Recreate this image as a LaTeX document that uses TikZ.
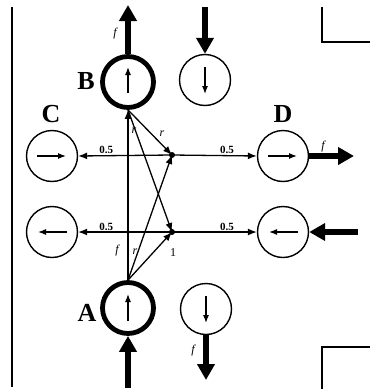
\documentclass[tikz,border=0pt]{standalone}
\usepackage{fontspec}
\setmainfont{Liberation Serif}
\usetikzlibrary{arrows.meta}
\begin{document}
\begin{tikzpicture}[x=1pt,y=-1pt,
  thincirc/.style={circle,draw,line width=1.4pt,minimum size=51pt,inner sep=0pt},
  thickcirc/.style={circle,draw,line width=4.8pt,minimum size=51pt,inner sep=0pt},
  flow/.style={line width=1.3pt,-{Latex[length=9pt,width=7pt]}},
  big/.style={line width=5.5pt,-{Triangle[length=16pt,width=17pt]}},
  inarr/.style={line width=1.2pt,-{Latex[length=8pt,width=6pt]}},
  lab/.style={font=\bfseries\fontsize{26}{26}\selectfont,inner sep=0pt},
  num/.style={font=\bfseries\fontsize{11}{11}\selectfont,inner sep=1pt},
  fl/.style={font=\itshape\fontsize{12}{12}\selectfont,inner sep=0pt},
  frame/.style={line width=1.5pt}]
\useasboundingbox (0,0) rectangle (370,389);
% frame
\coordinate (L1) at (12,7);  \coordinate (L2) at (12,387);
\draw[frame] (L1) -- (L2);
\coordinate (T1) at (322,7); \coordinate (T2) at (322,42); \coordinate (T3) at (370,42);
\draw[frame] (T1) -- (T2) -- (T3);
\coordinate (U1) at (322,389); \coordinate (U2) at (322,347); \coordinate (U3) at (370,347);
\draw[frame] (U1) -- (U2) -- (U3);
% circles
\node[thickcirc] (B) at (128,82) {};
\node[thincirc] (T) at (205,80) {};
\node[thincirc] (C) at (52,156) {};
\node[thincirc] (D) at (283,156) {};
\node[thincirc] (E) at (52,232) {};
\node[thincirc] (F) at (283,232) {};
\node[thickcirc] (A) at (128,308) {};
\node[thincirc] (S) at (206,309) {};
% inner arrows (yshift is measured upwards)
\draw[inarr] ([yshift=-11pt]B.center) -- ([yshift=15pt]B.center);
\draw[inarr] ([yshift=13pt]T.center) -- ([yshift=-14pt]T.center);
\draw[inarr] ([xshift=-15pt]C.center) -- ([xshift=14pt]C.center);
\draw[inarr] ([xshift=-15pt]D.center) -- ([xshift=14pt]D.center);
\draw[inarr] ([xshift=15pt]E.center) -- ([xshift=-14pt]E.center);
\draw[inarr] ([xshift=15pt]F.center) -- ([xshift=-14pt]F.center);
\draw[inarr] ([yshift=-13pt]A.center) -- ([yshift=14pt]A.center);
\draw[inarr] ([yshift=13pt]S.center) -- ([yshift=-14pt]S.center);
% labels
\node[lab] (lB) at (86,81) {B};
\node[lab] (lA) at (87,313) {A};
\node[lab] (lC) at (51,114) {C};
\node[lab] (lD) at (283,114) {D};
% junctions
\coordinate (P) at (172,155);
\coordinate (Q) at (172,232);
% horizontal flows
\draw[flow] (P) -- node[num,pos=0.7,above] {0.5} (C.east);
\draw[flow] (P) -- node[num,pos=0.65,above] {0.5} (D.west);
\draw[flow] (Q) -- node[num,pos=0.7,above] {0.5} (E.east);
\draw[flow] (Q) -- node[num,pos=0.65,above] {0.5} (F.west);
% vertical and diagonal flows
\draw[flow] (A.north) -- (B.south);
\draw[flow] (B.south) -- (P);
\draw[flow] (B.south) -- (Q);
\draw[flow] (A.north) -- (P);
\draw[flow] (A.north) -- (Q);
\fill (P) circle (3pt);
\fill (Q) circle (3pt);
% small labels
\node[fl] (r1) at (134,131) {r};
\node[fl] (r2) at (162,134) {r};
\node[fl] (f1) at (117,251) {f};
\node[fl] (r3) at (135,252) {r};
\node[fl,font=\fontsize{12}{12}\selectfont] (o1) at (173,253) {1};
% thick external arrows
\coordinate (Bt) at (128,5);
\draw[big] (B.north) -- (Bt);
\node[fl] (fB) at (115,34) {f};
\coordinate (Tt) at (205,7);
\draw[big] (Tt) -- (T.north);
\coordinate (Dt) at (354,156);
\draw[big] (D.east) -- (Dt);
\node[fl] (fD) at (323,147) {f};
\coordinate (Ft) at (358,232);
\draw[big] (Ft) -- (F.east);
\coordinate (At) at (128,388);
\draw[big] (At) -- (A.south);
\coordinate (St) at (206,380);
\draw[big] (S.south) -- (St);
\node[fl] (fS) at (193,351) {f};
\end{tikzpicture}
\end{document}
